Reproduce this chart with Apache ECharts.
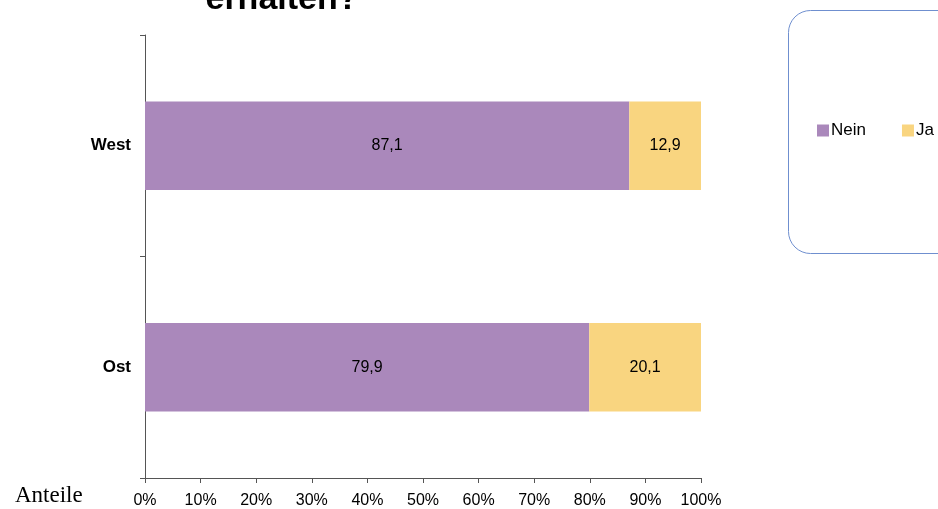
<!DOCTYPE html>
<html><head><meta charset="utf-8">
<script src="https://cdn.jsdelivr.net/npm/echarts@6/dist/echarts.min.js"></script>
<style>html,body{margin:0;padding:0;background:#fff}#c{width:938px;height:509px}</style>
</head><body><div id="c"></div>
<script>
const categories = ['Ost', 'West'];
const nein = [79.9, 87.1];
const ja = [20.1, 12.9];
const xTicks = [0, 10, 20, 30, 40, 50, 60, 70, 80, 90, 100];

const chart = echarts.init(document.getElementById('c'));
const lbl = {show: true, position: 'inside', color: '#000', fontFamily: 'Liberation Sans, Arial', fontSize: 16,
  formatter: p => p.value.toFixed(1).replace('.', ',')};
chart.setOption({
  animation: false,
  title: {text: 'erhalten?', left: 277, top: -22, textAlign: 'center',
    textStyle: {fontFamily: 'Liberation Sans, Arial', fontWeight: 'bold', fontSize: 34, color: '#000'}},
  legend: {data: ['Nein', 'Ja'], orient: 'horizontal', left: 817, top: 122, width: 300, itemWidth: 12, itemHeight: 12, itemGap: 36,
    padding: 0, icon: 'rect', textStyle: {fontFamily: 'Liberation Sans, Arial', fontSize: 17, color: '#000', padding: [0, 0, 0, -3]}},
  graphic: [
    {type: 'rect', shape: {x: 788.5, y: 10.5, width: 180, height: 243, r: 22},
      style: {fill: 'none', stroke: '#6f8fcf', lineWidth: 1}, z: -1},
    {type: 'text', left: 15, top: 484, style: {text: 'Anteile', fontFamily: 'Liberation Serif, Times New Roman', fontSize: 23, fill: '#000'}}
  ],
  grid: {left: 145, right: 237, top: 35, bottom: 31},
  xAxis: {type: 'value', min: 0, max: 100, interval: 10,
    axisLine: {show: true, lineStyle: {color: '#555'}},
    axisTick: {show: true, length: 5, lineStyle: {color: '#555'}},
    splitLine: {show: false},
    axisLabel: {color: '#000', fontFamily: 'Liberation Sans, Arial', fontSize: 16, margin: 15,
      formatter: v => xTicks.includes(v) ? v + '%' : ''}},
  yAxis: {type: 'category', data: categories,
    axisLine: {show: true, lineStyle: {color: '#555'}},
    axisTick: {show: true, length: 5, lineStyle: {color: '#555'}},
    axisLabel: {color: '#000', fontWeight: 'bold', fontFamily: 'Liberation Sans, Arial', fontSize: 17, margin: 14}},
  series: [
    {name: 'Nein', type: 'bar', stack: 's', data: nein, barWidth: '40%', itemStyle: {color: '#aa88bb'}, label: lbl},
    {name: 'Ja', type: 'bar', stack: 's', data: ja, barWidth: '40%', itemStyle: {color: '#f9d580'}, label: lbl}
  ]
});
</script></body></html>
